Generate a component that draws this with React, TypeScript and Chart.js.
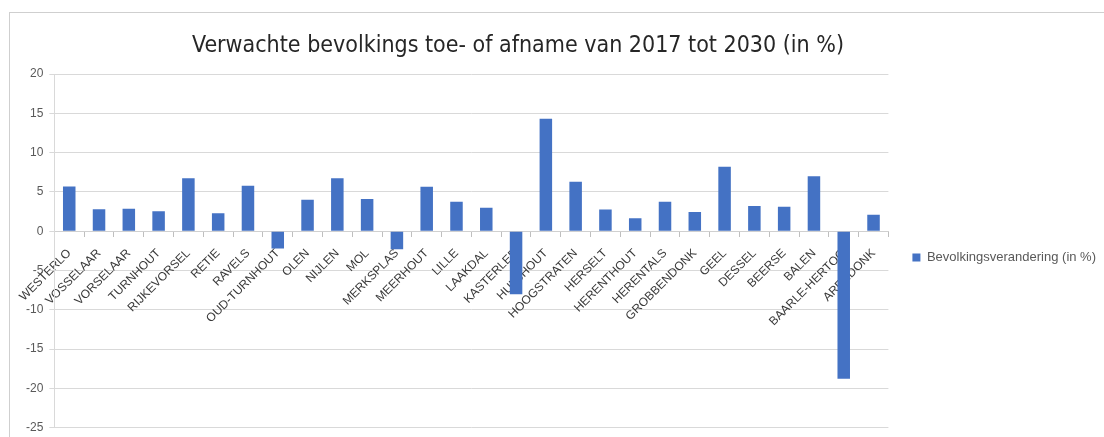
import React, { useEffect, useRef } from 'react';
import { Chart, registerables } from 'chart.js';

Chart.register(...registerables);

const titleText = 'Verwachte bevolkings toe- of afname van 2017 tot 2030 (in %)';
const seriesLabel = 'Bevolkingsverandering (in %)';

const categories = [
  'WESTERLO', 'VOSSELAAR', 'VORSELAAR', 'TURNHOUT', 'RIJKEVORSEL', 'RETIE', 'RAVELS',
  'OUD-TURNHOUT', 'OLEN', 'NIJLEN', 'MOL', 'MERKSPLAS', 'MEERHOUT', 'LILLE', 'LAAKDAL',
  'KASTERLEE', 'HULSHOUT', 'HOOGSTRATEN', 'HERSELT', 'HERENTHOUT', 'HERENTALS',
  'GROBBENDONK', 'GEEL', 'DESSEL', 'BEERSE', 'BALEN', 'BAARLE-HERTOG', 'ARENDONK',
];

const values = [
  5.7, 2.8, 2.85, 2.55, 6.75, 2.3, 5.8,
  -2.2, 4.0, 6.75, 4.1, -2.3, 5.65, 3.75, 3.0,
  -8.0, 14.3, 6.3, 2.75, 1.65, 3.75,
  2.45, 8.2, 3.2, 3.1, 7.0, -18.75, 2.1,
];

const yMin = -25;
const yMax = 20;
const yStep = 5;

const titlePlugin = {
  id: 'offsetTitle',
  afterDraw(chart: any) {
    const ctx = chart.ctx;
    ctx.save();
    ctx.font = "23px 'Liberation Sans Narrow', 'DejaVu Sans Condensed', sans-serif";
    ctx.fillStyle = '#262626';
    ctx.textAlign = 'center';
    ctx.textBaseline = 'middle';
    ctx.fillText(titleText, 518, 46);
    ctx.restore();
  },
};

export default function App() {
  const canvasRef = useRef<HTMLCanvasElement | null>(null);

  useEffect(() => {
    if (!canvasRef.current) return;
    const chart = new Chart(canvasRef.current, {
      type: 'bar',
      data: {
        labels: categories,
        datasets: [
          {
            label: seriesLabel,
            data: values,
            backgroundColor: '#4472C4',
            borderWidth: 0,
            barPercentage: 0.42,
            categoryPercentage: 1.0,
          },
        ],
      },
      options: {
        animation: false,
        responsive: false,
        devicePixelRatio: 1,
        layout: { padding: { top: 74, bottom: 0, left: 20, right: -2 } },
        plugins: {
          title: { display: false },
          tooltip: { enabled: false },
          legend: {
            position: 'right',
            labels: {
              boxWidth: 8,
              boxHeight: 8,
              padding: 24,
              color: '#595959',
              font: { family: "'Liberation Sans', Arial, sans-serif", size: 13 },
            },
          },
        },
        scales: {
          x: {
            position: { y: 0 } as any,
            grid: {
              offset: true,
              drawOnChartArea: false,
              drawTicks: true,
              tickLength: 5,
              color: '#bfbfbf',
            },
            border: { display: true, color: '#d0d0d0' },
            ticks: {
              autoSkip: false,
              minRotation: 45,
              maxRotation: 45,
              padding: 10,
              color: '#3a3a3a',
              font: { family: "'Liberation Sans', Arial, sans-serif", size: 12 },
            },
          },
          y: {
            min: yMin,
            max: yMax,
            grid: { color: '#d9d9d9', tickLength: 5 },
            border: { display: true, color: '#d9d9d9' },
            ticks: {
              stepSize: yStep,
              padding: 6,
              color: '#595959',
              font: { family: "'Liberation Sans', Arial, sans-serif", size: 12 },
            },
          },
        },
      },
      plugins: [titlePlugin],
    });
    return () => chart.destroy();
  }, []);

  return (
    <div style={{ position: 'absolute', left: 0, top: 0, width: 1104, height: 437, background: '#fff', overflow: 'hidden' }}>
      <div
        style={{
          position: 'absolute',
          left: 9,
          top: 12,
          right: -2,
          bottom: -2,
          borderLeft: '1px solid #cfcfcf',
          borderTop: '1px solid #cfcfcf',
        }}
      />
      <canvas ref={canvasRef} width={1104} height={441} style={{ position: 'absolute', left: 0, top: 0 }} />
    </div>
  );
}
